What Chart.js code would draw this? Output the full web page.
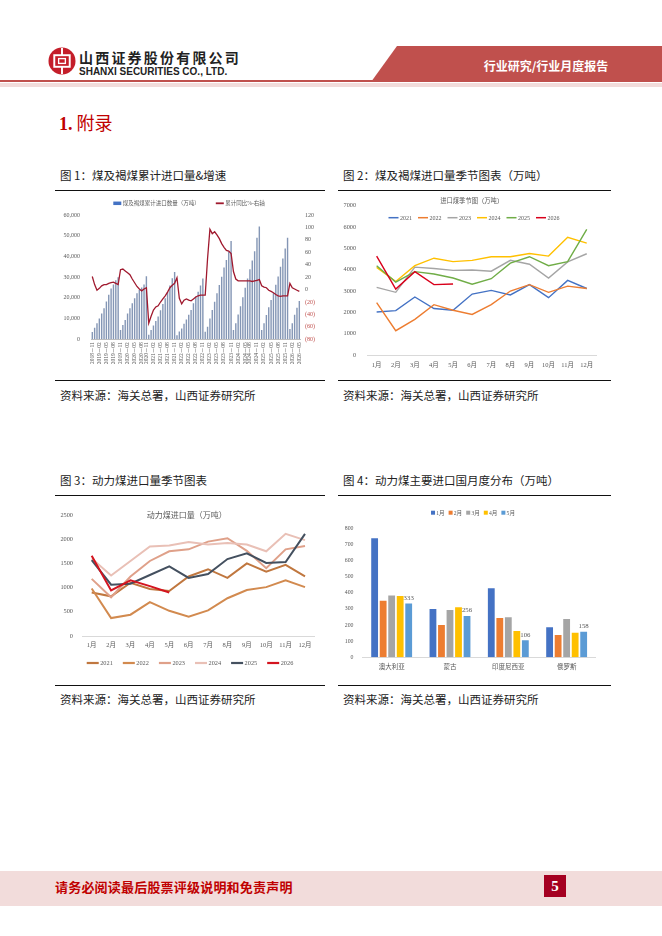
<!DOCTYPE html>
<html>
<head>
<meta charset="utf-8">
<script src="https://cdn.jsdelivr.net/npm/chart.js@4.4.1/dist/chart.umd.min.js"></script>
<style>
    body { margin: 0; width: 662px; height: 936px; background: #fff; position: relative; overflow: hidden;
           font-family: 'Noto Sans CJK SC', sans-serif; color: #222; }
    .abs { position: absolute; }
    .rule { position: absolute; height: 1.3px; background: #111; }
    .cap { position: absolute; font-size: 11.5px; line-height: 14px; white-space: nowrap; color: #222; }
    canvas { position: absolute; }
</style>
</head>
<body>

<!-- cabeçalho -->
<svg class="abs" style="left:48px;top:47px" width="28" height="28" viewBox="0 0 29 29">
    <circle cx="14.5" cy="14.5" r="14" fill="#c41e2a"/>
    <rect x="6.5" y="8.5" width="16" height="12" fill="none" stroke="#fff" stroke-width="2"/>
    <rect x="11" y="12" width="7" height="5" fill="none" stroke="#fff" stroke-width="1.4"/>
    <line x1="14.5" y1="1" x2="14.5" y2="8.5" stroke="#fff" stroke-width="2"/>
    <line x1="14.5" y1="20.5" x2="14.5" y2="28" stroke="#fff" stroke-width="2"/>
</svg>
<div class="abs" style="left:79px;top:49px;font-size:14px;font-weight:700;letter-spacing:2.2px;line-height:17px;">山西证券股份有限公司</div>
<div class="abs" style="left:79px;top:66px;font-family:'Liberation Sans',sans-serif;font-size:10px;font-weight:700;line-height:11px;">SHANXI SECURITIES CO., LTD.</div>
<div class="abs" style="left:371px;top:46px;width:291px;height:36px;background:#c0504d;clip-path:polygon(26px 0,100% 0,100% 100%,0 100%);"></div>
<div class="abs" style="left:470px;top:58px;width:152px;text-align:center;color:#fff;font-size:12px;font-weight:700;line-height:16px;">行业研究/行业月度报告</div>
<div class="abs" style="left:0;top:80px;width:375px;height:2.3px;background:#c0504d;"></div>
<div class="abs" style="left:0;top:83px;width:662px;height:4px;background:#f2dcdb;"></div>

<div class="abs" style="left:59px;top:110px;font-size:18px;line-height:24px;color:#c00000;"><span style="font-family:'Liberation Serif',serif;font-weight:700;">1.</span> 附录</div>

<!-- linha 1 -->
<div class="cap" style="left:60px;top:168px;">图 1：煤及褐煤累计进口量&amp;增速</div>
<div class="cap" style="left:343px;top:168px;">图 2：煤及褐煤进口量季节图表（万吨）</div>
<div class="rule" style="left:55px;top:189.5px;width:270px;"></div>
<div class="rule" style="left:338px;top:189.5px;width:273px;"></div>
<canvas id="c1" width="270" height="188" style="left:55px;top:191px;"></canvas>
<canvas id="c2" width="276" height="188" style="left:338px;top:191px;"></canvas>
<div class="rule" style="left:55px;top:379.5px;width:270px;"></div>
<div class="rule" style="left:338px;top:379.5px;width:273px;"></div>
<div class="cap" style="left:60px;top:388px;">资料来源：海关总署，山西证券研究所</div>
<div class="cap" style="left:343px;top:388px;">资料来源：海关总署，山西证券研究所</div>

<!-- linha 2 -->
<div class="cap" style="left:60px;top:473px;">图 3：动力煤进口量季节图表</div>
<div class="cap" style="left:343px;top:473px;">图 4：动力煤主要进口国月度分布（万吨）</div>
<div class="rule" style="left:55px;top:494.5px;width:270px;"></div>
<div class="rule" style="left:338px;top:494.5px;width:273px;"></div>
<canvas id="c3" width="270" height="188" style="left:55px;top:496px;"></canvas>
<canvas id="c4" width="276" height="188" style="left:338px;top:496px;"></canvas>
<div class="rule" style="left:55px;top:684.5px;width:270px;"></div>
<div class="rule" style="left:338px;top:684.5px;width:273px;"></div>
<div class="cap" style="left:60px;top:692px;">资料来源：海关总署，山西证券研究所</div>
<div class="cap" style="left:343px;top:692px;">资料来源：海关总署，山西证券研究所</div>

<!-- rodapé -->
<div class="abs" style="left:0;top:871px;width:662px;height:35px;background:#f2dcdb;"></div>
<div class="abs" style="left:55px;top:879px;font-size:13px;font-weight:700;color:#c00000;line-height:16px;letter-spacing:0.2px;">请务必阅读最后股票评级说明和免责声明</div>
<div class="abs" style="left:544px;top:875px;width:22px;height:22px;background:#a50021;color:#fff;text-align:center;font-family:'Liberation Serif',serif;font-weight:700;font-size:15px;line-height:22px;">5</div>

<script>
// ---------------- dados ----------------
var months = ['01', '02', '03', '04', '05', '06', '07', '08', '09', '10', '11', '12'];
var monthNames = ['1月', '2月', '3月', '4月', '5月', '6月', '7月', '8月', '9月', '10月', '11月', '12月'];

// importação acumulada (万吨)
var imp2019 = [3500, 5600, 7700, 10100, 12500, 15000, 18300, 21500, 24500, 26500, 28500, 30000];
var imp2020 = [4500, 6900, 9300, 12500, 15000, 17400, 19800, 22200, 23800, 25000, 26500, 30400];
var imp2021 = [2200, 4500, 6700, 8800, 11000, 14000, 17000, 19800, 22800, 26000, 29500, 32500];
var imp2022 = [2000, 3800, 5200, 7500, 9600, 11800, 14100, 17400, 20700, 23000, 26000, 29300];
var imp2023 = [3700, 6100, 10100, 14100, 18100, 22200, 26200, 30200, 34600, 38300, 42300, 47400];
var imp2024 = [4500, 7700, 12000, 16000, 20300, 24900, 29400, 33800, 38000, 42500, 49000, 54400];
var imp2025 = [4500, 7700, 11700, 15500, 19000, 22300, 26300, 30300, 35000, 39000, 43800, 49000];
var imp2026 = [5000, 7800, 11800, 15200, 18500];

// variação acumulada (%)
var yoy2019 = [21, 8, -1, 2, 6, 8, 8, 10, 11, 12, 10, 8];
var yoy2020 = [32, 33, 30, 27, 24, 17, 11, 5, 1, -2, 1, 3];
var yoy2021 = [-54, -43, -33, -28, -26, -20, -15, -10, -4, 3, 7, 10];
var yoy2022 = [19, -14, -23, -17, -15, -17, -18, -15, -12, -10, -9, -9];
var yoy2023 = [-9, 50, 97, 90, 93, 88, 82, 74, 68, 63, 62, 58];
var yoy2024 = [29, 17, 14, 14, 14, 14, 14, 14, 13, 14, 15, 16];
var yoy2025 = [6, 4, 3, -1, -3, -5, -8, -10, -11, -10, -10, -10];
var yoy2026 = [10, 3, 1, -1, -3];

var xTicks1 = ['2018-11', '2019-02', '2019-05', '2019-08', '2019-11', '2020-02', '2020-05', '2020-08',
    '2020-11', '2021-02', '2021-05', '2021-08', '2021-11', '2022-02', '2022-05', '2022-08', '2022-11',
    '2023-02', '2023-05', '2023-08', '2023-11', '2024-02', '2024-05', '2024-08', '2024-11', '2025-02',
    '2025-05', '2025-08', '2025-11', '2026-02', '2026-05'];

// sazonal importação de carvão (万吨)
var s2021 = [2020, 2080, 2720, 2180, 2100, 2860, 3030, 2820, 3300, 2690, 3500, 3120];
var s2022 = [2460, 1140, 1670, 2360, 2100, 1900, 2360, 3000, 3300, 2940, 3230, 3120];
var s2023 = [3170, 2940, 4120, 4060, 3970, 3990, 3930, 4440, 4260, 3610, 4370, 4750];
var s2024 = [4110, 3450, 4190, 4540, 4380, 4440, 4610, 4610, 4760, 4640, 5520, 5250];
var s2025 = [4190, 3420, 3910, 3800, 3610, 3320, 3580, 4310, 4610, 4190, 4380, 5890];
var s2026 = [4640, 3090, 3910, 3300, 3330];

// carvão térmico (万吨)
var d2021 = [900, 820, 1100, 970, 930, 1230, 1380, 1200, 1500, 1330, 1470, 1230];
var d2022 = [980, 370, 440, 700, 520, 400, 530, 780, 950, 1010, 1150, 1010];
var d2023 = [1180, 800, 1230, 1550, 1750, 1790, 1950, 2020, 1760, 1400, 1790, 1860];
var d2024 = [1600, 1250, 1550, 1850, 1870, 1940, 1890, 1920, 1890, 1750, 2110, 1980];
var d2025 = [1570, 1060, 1080, 1260, 1440, 1200, 1280, 1590, 1710, 1510, 1530, 2110];
var d2026 = [1660, 940, 1150, 1030, 900];

// países
var countries = ['澳大利亚', '蒙古', '印度尼西亚', '俄罗斯'];
var c1m = [738, 300, 428, 186];
var c2m = [351, 200, 244, 138];
var c3m = [384, 293, 248, 238];
var c4m = [380, 310, 163, 153];
var c5m = [333, 256, 106, 158];

// ---------------- auxiliares ----------------
var SERIF = "'Liberation Serif', 'Noto Sans CJK SC', serif";
var GREY = '#595959';

/**
 * Desenha título e legenda por cima da área do gráfico (como no Excel)
 */
function keyPlugin(cfg) {
    return {
        id: 'key_' + cfg.id,
        afterDraw: function (chart) {
            var c = chart.ctx;
            c.save();
            c.textBaseline = 'middle';
            if (cfg.title) {
                c.font = cfg.titleFont;
                c.fillStyle = GREY;
                c.textAlign = 'center';
                c.fillText(cfg.title, cfg.titleX, cfg.titleY);
            }
            c.font = cfg.font;
            c.textAlign = 'left';
            var list = cfg.order.map(function (i) { return chart.data.datasets[i]; });
            var widths = list.map(function (ds) { return cfg.sw + cfg.tg + c.measureText(ds.label).width; });
            var total = widths.reduce(function (a, b) { return a + b; }, 0) + cfg.gap * (list.length - 1);
            var x = cfg.cx - total / 2;
            list.forEach(function (ds, k) {
                var h = ds.keyH || cfg.sh;
                c.fillStyle = ds.keyColor || ds.borderColor || ds.backgroundColor;
                c.fillRect(x, cfg.y - h / 2, cfg.sw, h);
                c.fillStyle = GREY;
                c.fillText(ds.label, x + cfg.sw + cfg.tg, cfg.y + 0.5);
                x += widths[k] + cfg.gap;
            });
            c.restore();
        }
    };
}

function lineSet(label, data, color, width, order) {
    return { label: label, data: data, borderColor: color, backgroundColor: color, borderWidth: width,
             pointRadius: 0, tension: 0, order: order };
}

function fixed(size) {
    return function (scale) { if (scale.isHorizontal()) { scale.height = size; } else { scale.width = size; } };
}

function plain(v) { return String(v); }

// ---------------- gráfico 1 ----------------
var years = ['2019', '2020', '2021', '2022', '2023', '2024', '2025', '2026'];
var impByYear = [imp2019, imp2020, imp2021, imp2022, imp2023, imp2024, imp2025, imp2026];
var yoyByYear = [yoy2019, yoy2020, yoy2021, yoy2022, yoy2023, yoy2024, yoy2025, yoy2026];
var monthCats = [], cumAll = [], yoyAll = [];
years.forEach(function (y, k) {
    impByYear[k].forEach(function (v, m) {
        monthCats.push(y + '-' + months[m]);
        cumAll.push(v);
        yoyAll.push(yoyByYear[k][m]);
    });
});
// posição de cada rótulo do eixo x
var tickAt = {};
xTicks1.forEach(function (t, j) {
    tickAt[Math.round(j * (monthCats.length - 1) / (xTicks1.length - 1))] = t.replace('-', '－');
});

new Chart(document.getElementById('c1'), {
    type: 'bar',
    data: {
        labels: monthCats,
        datasets: [
            { type: 'line', label: '累计同比%-右轴', data: yoyAll, yAxisID: 'y2', borderColor: '#a0192e',
              backgroundColor: '#a0192e', borderWidth: 1.3, pointRadius: 0, tension: 0, order: 0, keyH: 1.8 },
            { type: 'bar', label: '煤及褐煤累计进口数量（万吨）', data: cumAll, yAxisID: 'y',
              backgroundColor: '#8496b5', keyColor: '#4472c4', barPercentage: 0.6, categoryPercentage: 1, order: 1 }
        ]
    },
    options: {
        responsive: false,
        animation: false,
        layout: { padding: { top: 24, right: 0, left: 0, bottom: 0 } },
        plugins: { legend: { display: false }, tooltip: { enabled: false } },
        scales: {
            x: {
                grid: { display: false, drawTicks: false },
                border: { display: true, color: '#bfbfbf' },
                ticks: { autoSkip: false, minRotation: 90, maxRotation: 90, padding: 3, color: GREY,
                         font: { family: SERIF, size: 5.5 },
                         callback: function (v, i) { return tickAt[i] || ''; } },
                afterFit: fixed(39.7)
            },
            y: {
                position: 'left', min: 0, max: 60000,
                grid: { display: false, drawTicks: false }, border: { display: false },
                ticks: { stepSize: 10000, padding: 11, color: GREY, font: { family: SERIF, size: 6 },
                         callback: function (v) { return v.toLocaleString('en-US'); } },
                afterFit: fixed(36.1)
            },
            y2: {
                position: 'right', min: -80, max: 120,
                grid: { display: false, drawTicks: false }, border: { display: false },
                ticks: { stepSize: 20, padding: 4.5, font: { family: SERIF, size: 6 },
                         color: function (c) { return c.tick && c.tick.value < 0 ? '#c0504d' : GREY; },
                         callback: function (v) { return v < 0 ? '(' + (-v) + ')' : v; } },
                afterFit: fixed(24.5)
            }
        }
    },
    plugins: [keyPlugin({ id: 1, order: [1, 0], cx: 134, y: 12.3, sw: 8, sh: 3.5, tg: 1.5, gap: 16,
                          font: '5.5px ' + SERIF })]
});

// ---------------- gráfico 2 ----------------
new Chart(document.getElementById('c2'), {
    type: 'line',
    data: {
        labels: monthNames,
        datasets: [
            lineSet('2021', s2021, '#4472c4', 1.4, 6),
            lineSet('2022', s2022, '#ed7d31', 1.4, 5),
            lineSet('2023', s2023, '#a5a5a5', 1.4, 4),
            lineSet('2024', s2024, '#ffc000', 1.4, 3),
            lineSet('2025', s2025, '#70ad47', 1.4, 2),
            lineSet('2026', s2026, '#d9001b', 1.4, 1)
        ]
    },
    options: {
        responsive: false,
        animation: false,
        layout: { padding: { top: 10.7, right: 17.7, left: 0, bottom: 0 } },
        plugins: { legend: { display: false }, tooltip: { enabled: false } },
        scales: {
            x: {
                offset: true,
                grid: { display: false, drawTicks: false },
                border: { display: true, color: '#d9d9d9' },
                ticks: { autoSkip: false, maxRotation: 0, padding: 6.5, color: GREY, font: { family: SERIF, size: 6.5 } },
                afterFit: fixed(24)
            },
            y: {
                min: 0, max: 7000,
                grid: { display: false, drawTicks: false }, border: { display: false },
                ticks: { stepSize: 1000, padding: 11, color: GREY, font: { family: SERIF, size: 6.3 }, callback: plain },
                afterFit: fixed(29.1)
            }
        }
    },
    plugins: [keyPlugin({ id: 2, order: [0, 1, 2, 3, 4, 5], cx: 136, y: 26.7, sw: 10, sh: 1.5, tg: 1.5, gap: 6,
                          font: '6px ' + SERIF, title: '进口煤季节图（万吨）', titleX: 133.7, titleY: 10.7,
                          titleFont: '6.3px ' + SERIF })]
});

// ---------------- gráfico 3 ----------------
new Chart(document.getElementById('c3'), {
    type: 'line',
    data: {
        labels: monthNames,
        datasets: [
            lineSet('2021', d2021, '#c0773f', 2, 6),
            lineSet('2022', d2022, '#d28a4f', 2, 5),
            lineSet('2023', d2023, '#dfa089', 2, 4),
            lineSet('2024', d2024, '#e9c0b6', 2, 3),
            lineSet('2025', d2025, '#44505f', 2, 2),
            lineSet('2026', d2026, '#d4141f', 2, 1)
        ]
    },
    options: {
        responsive: false,
        animation: false,
        layout: { padding: { top: 19, right: 10.3, left: 0, bottom: 0 } },
        plugins: { legend: { display: false }, tooltip: { enabled: false } },
        scales: {
            x: {
                offset: true,
                grid: { display: false, drawTicks: false },
                border: { display: true, color: '#d9d9d9' },
                ticks: { autoSkip: false, maxRotation: 0, padding: 5.5, color: GREY, font: { family: SERIF, size: 6.5 } },
                afterFit: fixed(48)
            },
            y: {
                min: 0, max: 2500,
                grid: { display: false, drawTicks: false }, border: { display: false },
                ticks: { stepSize: 500, padding: 9, color: GREY, font: { family: SERIF, size: 6.3 }, callback: plain },
                afterFit: fixed(27)
            }
        }
    },
    plugins: [keyPlugin({ id: 3, order: [0, 1, 2, 3, 4, 5], cx: 135, y: 167, sw: 12, sh: 2.2, tg: 1.5, gap: 10,
                          font: '6.3px ' + SERIF, title: '动力煤进口量（万吨）', titleX: 131.7, titleY: 20,
                          titleFont: '8px ' + SERIF })]
});

// ---------------- gráfico 4 ----------------
var lastLabels = {
    id: 'lastLabels',
    afterDatasetsDraw: function (chart) {
        var idx = chart.data.datasets.length - 1;
        var ds = chart.data.datasets[idx];
        var c = chart.ctx;
        c.save();
        c.font = '6.8px ' + SERIF;
        c.fillStyle = GREY;
        c.textAlign = 'center';
        c.textBaseline = 'bottom';
        chart.getDatasetMeta(idx).data.forEach(function (bar, i) {
            c.fillText(String(ds.data[i]), bar.x, bar.y - 2);
        });
        c.restore();
    }
};

function barSet(label, data, color) {
    return { label: label, data: data, backgroundColor: color, barPercentage: 0.8, categoryPercentage: 0.73 };
}

new Chart(document.getElementById('c4'), {
    type: 'bar',
    data: {
        labels: countries,
        datasets: [
            barSet('1月', c1m, '#4472c4'),
            barSet('2月', c2m, '#ed7d31'),
            barSet('3月', c3m, '#a5a5a5'),
            barSet('4月', c4m, '#ffc000'),
            barSet('5月', c5m, '#5b9bd5')
        ]
    },
    options: {
        responsive: false,
        animation: false,
        layout: { padding: { top: 32.3, right: 18.2, left: 0, bottom: 0 } },
        plugins: { legend: { display: false }, tooltip: { enabled: false } },
        scales: {
            x: {
                grid: { display: false, drawTicks: false },
                border: { display: true, color: '#d9d9d9' },
                ticks: { maxRotation: 0, padding: 6, color: GREY, font: { family: SERIF, size: 6.5 } },
                afterFit: fixed(26.7)
            },
            y: {
                min: 0, max: 800,
                grid: { display: false, drawTicks: false }, border: { display: false },
                ticks: { stepSize: 100, padding: 9, color: GREY, font: { family: SERIF, size: 5.8 }, callback: plain },
                afterFit: fixed(24.5)
            }
        }
    },
    plugins: [lastLabels,
              keyPlugin({ id: 4, order: [0, 1, 2, 3, 4], cx: 135, y: 16.7, sw: 4, sh: 4, tg: 1.2, gap: 4,
                          font: '5.6px ' + SERIF })]
});
</script>
</body>
</html>
